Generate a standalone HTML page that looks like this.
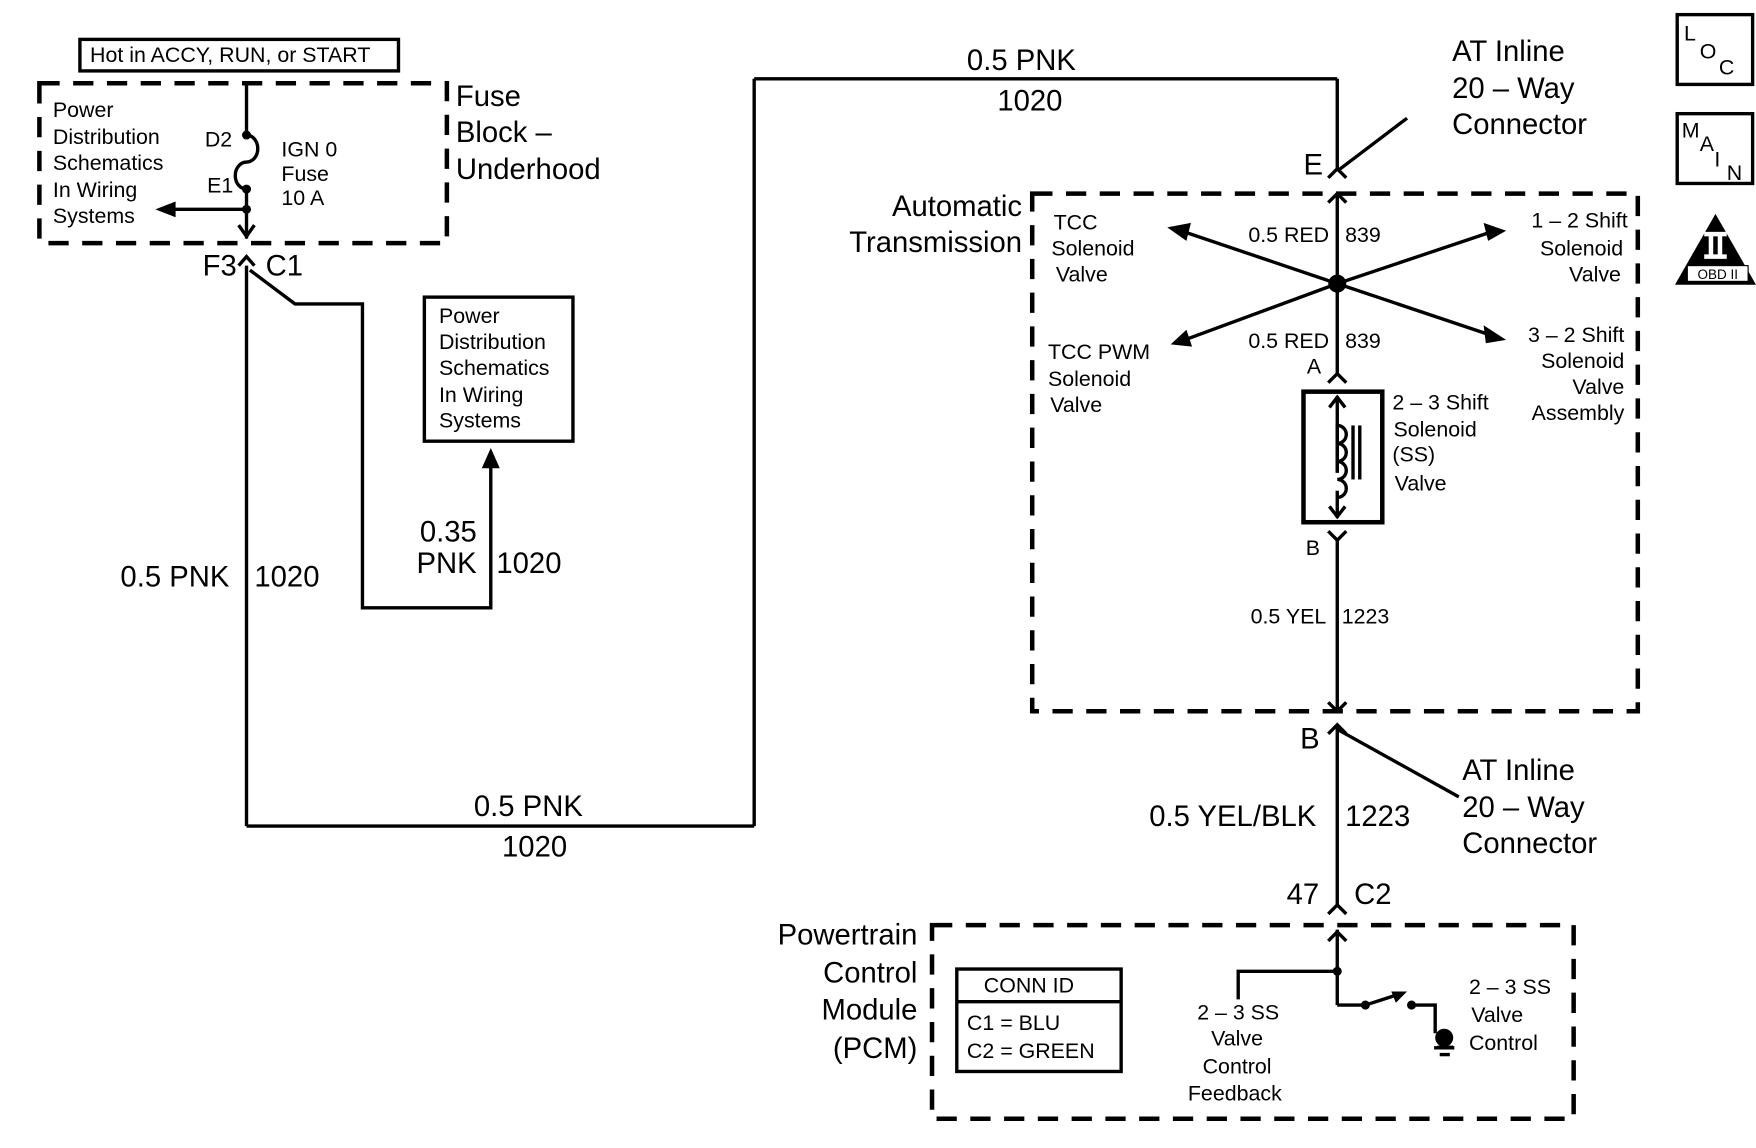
<!DOCTYPE html>
<html><head><meta charset="utf-8"><style>
html,body{margin:0;padding:0;background:#fff;width:1756px;height:1148px;overflow:hidden}
svg{display:block}
text{font-family:"Liberation Sans",sans-serif;fill:#000}
.L{font-size:26px}
.S{font-size:19px}
</style></head><body>
<svg width="1756" height="1148" viewBox="0 0 1560 1020" preserveAspectRatio="none" xmlns="http://www.w3.org/2000/svg">
<g fill="none" stroke="#000" stroke-width="3">
<!-- dashed boxes -->
<rect x="35" y="74" width="362" height="142" stroke-dasharray="18 12" stroke-width="4"/>
<rect x="917" y="172" width="538" height="460" stroke-dasharray="18 12" stroke-width="4"/>
<rect x="828" y="822" width="570" height="172" stroke-dasharray="18 12" stroke-width="4"/>
<!-- Hot box -->
<rect x="71" y="35" width="283" height="28"/>
<!-- PD box -->
<rect x="377" y="264" width="132" height="128"/>
<!-- conn id -->
<rect x="850" y="861" width="146" height="91"/>
<line x1="850" y1="890" x2="996" y2="890"/>
<!-- LOC MAIN -->
<rect x="1490" y="13" width="67" height="62"/>
<rect x="1490" y="101" width="67" height="62"/>
<!-- fuse block wires -->
<line x1="219" y1="74" x2="219" y2="120"/>
<path d="M219,120 a10,12 0 0 1 0,24 a10,12 0 0 0 0,24"/>
<line x1="219" y1="168" x2="219" y2="212"/>
<line x1="219" y1="186" x2="150" y2="186"/>
<polyline points="212,200 219,210 226,200"/>
<!-- F3 connector -->
<polyline points="212,236 219,228 226,236"/>
<line x1="219" y1="236" x2="219" y2="734"/>
<line x1="219" y1="734" x2="670" y2="734"/>
<line x1="670" y1="734" x2="670" y2="70"/>
<line x1="670" y1="70" x2="1188" y2="70"/>
<line x1="1188" y1="70" x2="1188" y2="150"/>
<polyline points="1180,158 1188,150 1196,158"/>
<line x1="1188" y1="152" x2="1250" y2="105"/>
<!-- C1 diag -->
<polyline points="222,240 262,270 322,270 322,540 436,540 436,410"/>
<!-- AT internal -->
<line x1="1188" y1="172" x2="1188" y2="332"/>
<polyline points="1180,180 1188,172 1196,180"/>
<polyline points="1180,340 1188,332 1196,340"/>
<line x1="1188" y1="252" x2="1055" y2="207"/>
<line x1="1188" y1="252" x2="1322" y2="207"/>
<line x1="1188" y1="252" x2="1055" y2="301"/>
<line x1="1188" y1="252" x2="1322" y2="297"/>
<rect x="1158" y="348" width="70" height="116" stroke-width="4"/>
<line x1="1188" y1="352" x2="1188" y2="420"/>
<polyline points="1181,362 1188,353 1195,362"/>
<path d="M1188,420 v-42 a8,8 0 0 1 0,16 a8,8 0 0 1 0,16 a8,8 0 0 1 0,16 a8,8 0 0 1 0,16"/>
<line x1="1188" y1="436" x2="1188" y2="460"/>
<polyline points="1181,450 1188,459 1195,450"/>
<line x1="1202" y1="378" x2="1202" y2="426"/>
<line x1="1208" y1="378" x2="1208" y2="426"/>
<polyline points="1180,472 1188,480 1196,472"/>
<line x1="1188" y1="478" x2="1188" y2="632"/>
<polyline points="1180,624 1188,632 1196,624"/>
<polyline points="1180,652 1188,644 1196,652"/>
<line x1="1188" y1="646" x2="1188" y2="804"/>
<line x1="1188" y1="648" x2="1296" y2="708"/>
<polyline points="1180,812 1188,804 1196,812"/>
<!-- PCM internal -->
<line x1="1188" y1="826" x2="1188" y2="893"/>
<polyline points="1180,836 1188,828 1196,836"/>
<polyline points="1100,888 1100,863 1188,863"/>
<polyline points="1188,893 1213,893"/>
<line x1="1213" y1="893" x2="1244" y2="883"/>
<polyline points="1254,893 1275,893 1275,918"/>
<line x1="1274" y1="931" x2="1292" y2="931"/>
<line x1="1279" y1="937" x2="1288" y2="937"/>
</g>
<g fill="#000">
<circle cx="219" cy="120" r="4"/><circle cx="219" cy="168" r="4"/><circle cx="219" cy="186" r="4"/>
<polygon points="138,186 156,179 156,193"/>
<polygon points="436,398 428,416 444,416"/>
<circle cx="1188" cy="252" r="8"/>
<polygon points="1037,202 1058,198 1054,214"/>
<polygon points="1338,205 1318,198 1322,214"/>
<polygon points="1040,306 1054,293 1059,308"/>
<polygon points="1338,302 1318,289 1320,305"/>
<circle cx="1188" cy="863" r="4"/><circle cx="1213" cy="893" r="4"/><circle cx="1254" cy="893" r="4"/>
<polygon points="1250,881 1236,881 1240,891"/>
<circle cx="1283" cy="922" r="8"/>
<rect x="1277" y="929" width="14" height="2"/>
<polygon points="1524,190 1488,253 1560,253"/>
</g>
<rect x="1499" y="236" width="54" height="14" fill="#fff" stroke="#000" stroke-width="1"/>
<rect x="1514" y="206" width="20" height="4" fill="#fff"/><rect x="1514" y="226" width="20" height="4" fill="#fff"/>
<rect x="1518" y="208" width="4" height="20" fill="#fff"/><rect x="1526" y="208" width="4" height="20" fill="#fff"/>
<text x="1526" y="248" class="S" style="font-size:12px" text-anchor="middle">OBD II</text>
<text x="1496" y="36" class="S">L</text><text x="1510" y="52" class="S">O</text><text x="1527" y="66" class="S">C</text>
<text x="1494" y="122" class="S">M</text><text x="1510" y="134" class="S">A</text><text x="1523" y="148" class="S">I</text><text x="1534" y="160" class="S">N</text>

<text x="80" y="55" class="S">Hot in ACCY, RUN, or START</text>
<text class="S"><tspan x="47" y="104">Power</tspan><tspan x="47" y="128">Distribution</tspan><tspan x="47" y="151">Schematics</tspan><tspan x="47" y="175">In Wiring</tspan><tspan x="47" y="198">Systems</tspan></text>
<text x="182" y="130" class="S">D2</text><text x="184" y="171" class="S">E1</text>
<text class="S"><tspan x="250" y="139">IGN 0</tspan><tspan x="250" y="161">Fuse</tspan><tspan x="250" y="182">10 A</tspan></text>
<text class="L"><tspan x="405" y="94">Fuse</tspan><tspan x="405" y="126">Block –</tspan><tspan x="405" y="159">Underhood</tspan></text>
<text x="180" y="245" class="L">F3</text><text x="236" y="245" class="L">C1</text>
<text class="S"><tspan x="390" y="287">Power</tspan><tspan x="390" y="310">Distribution</tspan><tspan x="390" y="333">Schematics</tspan><tspan x="390" y="357">In Wiring</tspan><tspan x="390" y="380">Systems</tspan></text>
<text x="373" y="481" class="L">0.35</text><text x="370" y="509" class="L">PNK</text><text x="441" y="509" class="L">1020</text>
<text x="107" y="521" class="L">0.5 PNK</text><text x="226" y="521" class="L">1020</text>
<text x="421" y="725" class="L">0.5 PNK</text><text x="446" y="761" class="L">1020</text>
<text x="859" y="62" class="L">0.5 PNK</text><text x="886" y="98" class="L">1020</text>
<text class="L"><tspan x="1290" y="54">AT Inline</tspan><tspan x="1290" y="87">20 – Way</tspan><tspan x="1290" y="119">Connector</tspan></text>
<text x="1158" y="155" class="L">E</text>
<text class="L" text-anchor="end"><tspan x="908" y="192">Automatic</tspan><tspan x="908" y="224">Transmission</tspan></text>
<text class="S"><tspan x="936" y="204">TCC</tspan><tspan x="934" y="227">Solenoid</tspan><tspan x="938" y="250">Valve</tspan></text>
<text x="1109" y="215" class="S">0.5 RED</text><text x="1195" y="215" class="S">839</text>
<text x="1109" y="309" class="S">0.5 RED</text><text x="1195" y="309" class="S">839</text>
<text class="S" text-anchor="end"><tspan x="1446" y="202">1 – 2 Shift</tspan><tspan x="1442" y="227">Solenoid</tspan><tspan x="1440" y="250">Valve</tspan></text>
<text class="S"><tspan x="931" y="319">TCC PWM</tspan><tspan x="931" y="343">Solenoid</tspan><tspan x="933" y="366">Valve</tspan></text>
<text class="S" text-anchor="end"><tspan x="1443" y="304">3 – 2 Shift</tspan><tspan x="1443" y="327">Solenoid</tspan><tspan x="1443" y="350">Valve</tspan><tspan x="1443" y="373">Assembly</tspan></text>
<text x="1161" y="332" class="S">A</text><text x="1160" y="493" class="S">B</text>
<text class="S"><tspan x="1237" y="364">2 – 3 Shift</tspan><tspan x="1238" y="388">Solenoid</tspan><tspan x="1237" y="410">(SS)</tspan><tspan x="1239" y="436">Valve</tspan></text>
<text x="1111" y="554" class="S">0.5 YEL</text><text x="1192" y="554" class="S">1223</text>
<text x="1155" y="665" class="L">B</text>
<text class="L"><tspan x="1299" y="693">AT Inline</tspan><tspan x="1299" y="726">20 – Way</tspan><tspan x="1299" y="758">Connector</tspan></text>
<text x="1021" y="734" class="L">0.5 YEL/BLK</text><text x="1195" y="734" class="L">1223</text>
<text x="1143" y="803" class="L">47</text><text x="1203" y="803" class="L">C2</text>
<text class="L" text-anchor="end"><tspan x="815" y="839">Powertrain</tspan><tspan x="815" y="873">Control</tspan><tspan x="815" y="906">Module</tspan><tspan x="815" y="940">(PCM)</tspan></text>
<text x="874" y="882" class="S">CONN ID</text>
<text x="859" y="915" class="S">C1  =  BLU</text><text x="859" y="940" class="S">C2  =  GREEN</text>
<text class="S" text-anchor="middle"><tspan x="1100" y="906">2 – 3 SS</tspan><tspan x="1099" y="929">Valve</tspan><tspan x="1099" y="954">Control</tspan><tspan x="1097" y="978">Feedback</tspan></text>
<text class="S"><tspan x="1305" y="883">2 – 3 SS</tspan><tspan x="1307" y="908">Valve</tspan><tspan x="1305" y="933">Control</tspan></text>
</svg>
</body></html>
